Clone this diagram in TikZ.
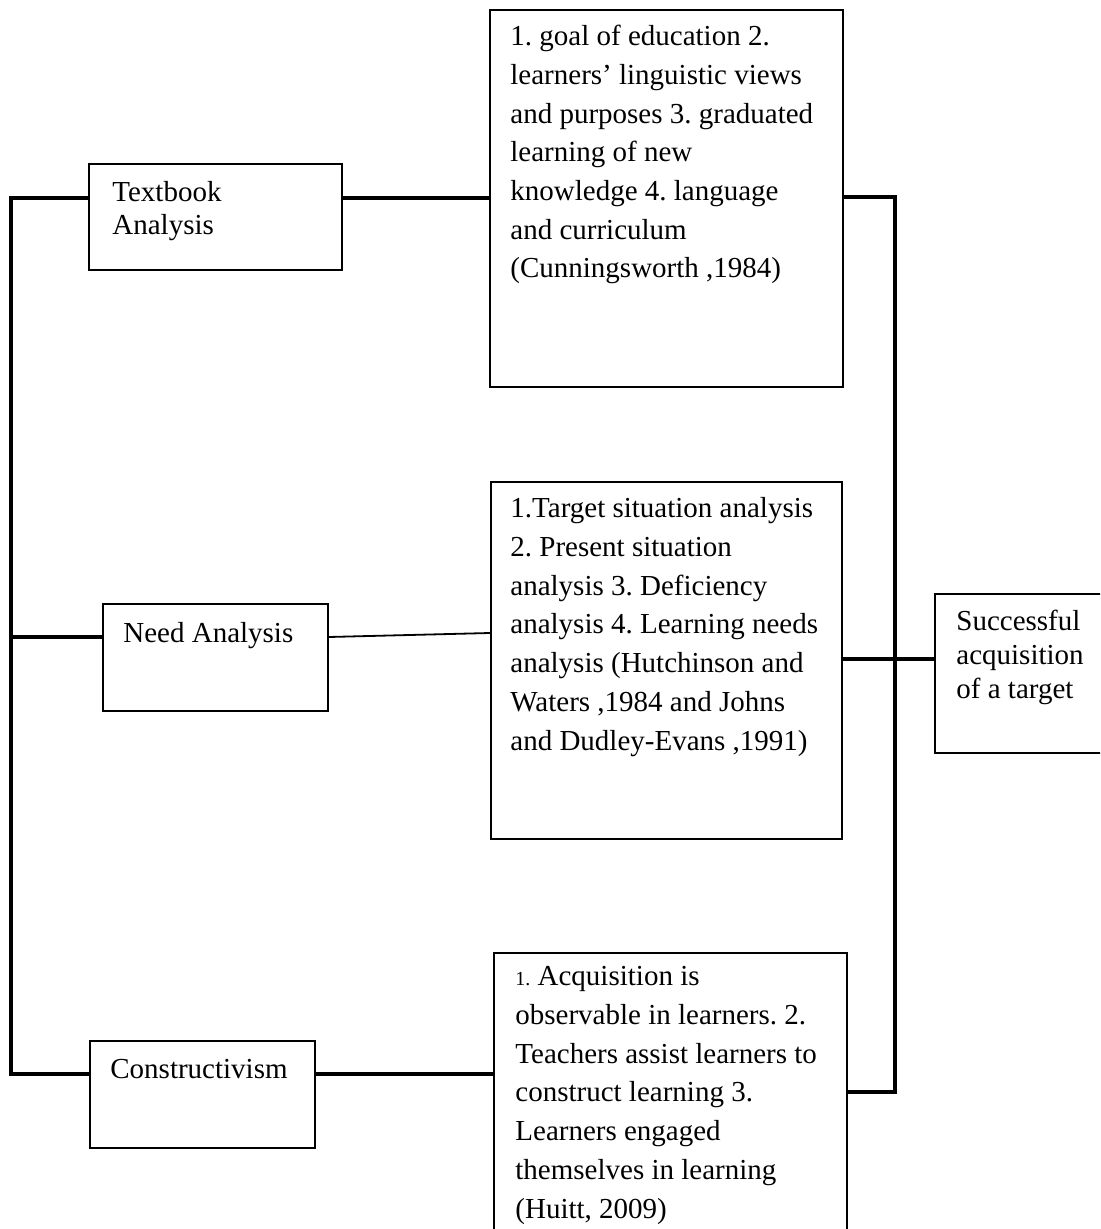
\documentclass[tikz,border=0pt]{standalone}
\usepackage{fontspec}
\setmainfont{Liberation Serif}
\usetikzlibrary{positioning,calc}
\frenchspacing

\begin{document}
\begin{tikzpicture}[x=0.5pt,y=-0.5pt]
    \tikzset{box/.style={draw, line width=0.9pt, inner sep=0pt, anchor=north west},
      link/.style={line width=1.6pt},
      thinlink/.style={line width=0.9pt},
      txt/.style={inner sep=0pt, anchor=base west, align=left,
        font=\fontsize{14.5}{19.35}\selectfont},
      shorttxt/.style={txt, font=\fontsize{14.5}{16.9}\selectfont}
    }

    \path[use as bounding box, clip] (0,0) rectangle (1100,1229);

    % left column
    \node[box, minimum width=126.5pt, minimum height=53pt] (TB) at (88,163) {};
    \node[box, minimum width=112.5pt, minimum height=53.5pt] (NA) at (102,603) {};
    \node[box, minimum width=112.5pt, minimum height=53.5pt] (CO) at (89,1040) {};

    % middle column
    \node[box, minimum width=176.5pt, minimum height=188.5pt] (G1) at (489,9) {};
    \node[box, minimum width=175.5pt, minimum height=178.5pt] (G2) at (490,481) {};
    \node[box, minimum width=176.5pt, minimum height=150pt] (G3) at (493,952) {};

    % result
    \node[box, minimum width=90pt, minimum height=79.5pt] (SU) at (934,593) {};

    % texts, placed by the baseline of their last line
    \node[shorttxt] (TBt) at ($(TB.north west)+(24,72)$) {Textbook\\Analysis};
    \node[txt] (NAt) at ($(NA.north west)+(21,39)$) {Need Analysis};
    \node[txt] (COt) at ($(CO.north west)+(21,38)$) {Constructivism};

    \node[txt] (G1t) at ($(G1.north west)+(21,269)$) {1. goal of education 2.\\
      learners’ linguistic views\\ and purposes 3. graduated\\ learning of new\\
      knowledge 4. language\\ and curriculum\\ (Cunningsworth ,1984)};
    \node[txt] (G2t) at ($(G2.north west)+(20,269)$) {1.Target situation analysis\\
      2. Present situation\\ analysis 3. Deficiency\\ analysis 4. Learning needs\\
      analysis (Hutchinson and\\ Waters ,1984 and Johns\\ and Dudley-Evans ,1991)};
    \node[txt] (G3t) at ($(G3.north west)+(22,266)$) {{\fontsize{10}{12}\selectfont 1.} Acquisition is\\
      observable in learners. 2.\\ Teachers assist learners to\\ construct learning 3.\\
      Learners engaged\\ themselves in learning\\ (Huitt, 2009)};

    \node[shorttxt] (SUt) at ($(SU.north west)+(22,105)$) {Successful\\acquisition\\of a target};

    % buses
    \coordinate (lt) at (11,198);
    \coordinate (lm) at (11,637);
    \coordinate (lb) at (11,1074);
    \coordinate (rt) at (895,197);
    \coordinate (rm) at (895,659);
    \coordinate (rb) at (895,1092);

    \draw[link] (TB.west |- lt) -- (lt) -- (lb) -- (CO.west |- lb);
    \draw[link] (lm) -- (NA.west |- lm);
    \draw[link] (TB.east |- lt) -- (G1.west |- lt);
    \draw[thinlink] (NA.east |- lm) -- ($(G2.north west)+(0,152)$);
    \draw[link] (CO.east |- lb) -- (G3.west |- lb);

    \draw[link] (G1.east |- rt) -- (rt) -- (rb) -- (G3.east |- rb);
    \draw[link] (G2.east |- rm) -- (SU.west |- rm);
  \end{tikzpicture}
\end{document}
